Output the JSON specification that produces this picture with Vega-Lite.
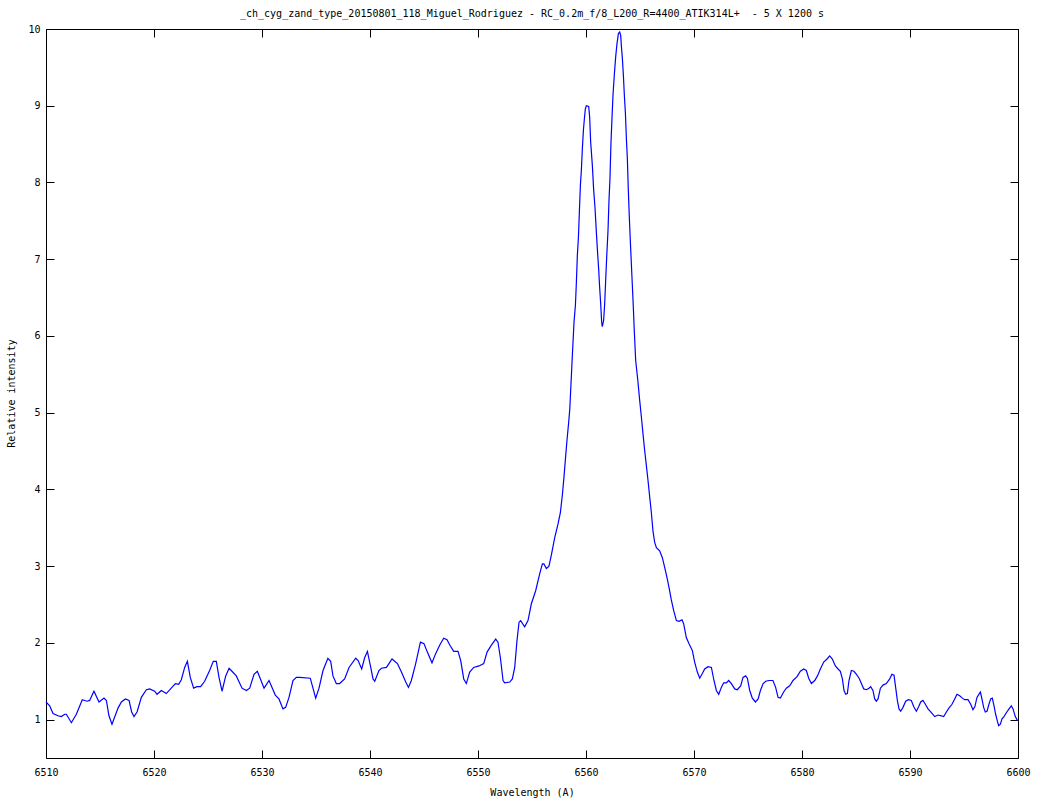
{
 "$schema": "https://vega.github.io/schema/vega-lite/v6.json",
 "width": 972, "height": 729,
 "autosize": {"type": "none"},
 "padding": {"left": 46, "top": 29, "right": 19, "bottom": 42},
 "background": "white",
 "title": {"text": "_ch_cyg_zand_type_20150801_118_Miguel_Rodriguez - RC_0.2m_f/8_L200_R=4400_ATIK314L+\u00a0 - 5 X 1200 s", "font": "DejaVu Sans Mono", "fontSize": 10, "fontWeight": "normal", "color": "black", "anchor": "middle", "frame": "group", "baseline": "alphabetic", "offset": -3},
 "config": {"view": {"stroke": "black", "strokeWidth": 1}, "axis": {"labelFont": "DejaVu Sans Mono", "labelFontSize": 10, "labelColor": "black", "titleFont": "DejaVu Sans Mono", "titleFontSize": 10, "titleFontWeight": "normal", "titleColor": "black", "grid": false, "domain": false, "tickColor": "black", "tickSize": -8, "tickWidth": 1}},
 "data": {"values": [
{"w":6510.0,"i":1.23},{"w":6510.34,"i":1.18},{"w":6510.65,"i":1.08},{"w":6511.11,"i":1.05},{"w":6511.42,"i":1.04},{"w":6511.73,"i":1.07},{"w":6511.88,"i":1.07},{"w":6512.35,"i":0.96},{"w":6512.81,"i":1.07},{"w":6513.36,"i":1.26},{"w":6513.8,"i":1.24},{"w":6514.04,"i":1.25},{"w":6514.44,"i":1.37},{"w":6514.91,"i":1.23},{"w":6515.37,"i":1.28},{"w":6515.59,"i":1.25},{"w":6515.83,"i":1.05},{"w":6516.11,"i":0.94},{"w":6516.67,"i":1.15},{"w":6516.98,"i":1.23},{"w":6517.35,"i":1.27},{"w":6517.69,"i":1.25},{"w":6517.93,"i":1.10},{"w":6518.15,"i":1.04},{"w":6518.43,"i":1.10},{"w":6518.83,"i":1.29},{"w":6519.29,"i":1.39},{"w":6519.6,"i":1.40},{"w":6520.06,"i":1.37},{"w":6520.28,"i":1.33},{"w":6520.68,"i":1.38},{"w":6521.14,"i":1.34},{"w":6521.6,"i":1.41},{"w":6521.98,"i":1.47},{"w":6522.28,"i":1.46},{"w":6522.53,"i":1.52},{"w":6522.84,"i":1.68},{"w":6523.09,"i":1.76},{"w":6523.36,"i":1.55},{"w":6523.67,"i":1.41},{"w":6523.98,"i":1.43},{"w":6524.32,"i":1.43},{"w":6524.69,"i":1.50},{"w":6525.15,"i":1.64},{"w":6525.49,"i":1.76},{"w":6525.77,"i":1.76},{"w":6526.02,"i":1.55},{"w":6526.3,"i":1.37},{"w":6526.64,"i":1.57},{"w":6526.95,"i":1.67},{"w":6527.22,"i":1.63},{"w":6527.62,"i":1.57},{"w":6528.15,"i":1.41},{"w":6528.55,"i":1.38},{"w":6528.86,"i":1.41},{"w":6529.26,"i":1.59},{"w":6529.57,"i":1.63},{"w":6529.88,"i":1.52},{"w":6530.19,"i":1.41},{"w":6530.65,"i":1.51},{"w":6530.96,"i":1.41},{"w":6531.23,"i":1.32},{"w":6531.57,"i":1.27},{"w":6531.94,"i":1.14},{"w":6532.19,"i":1.16},{"w":6532.5,"i":1.29},{"w":6532.87,"i":1.51},{"w":6533.18,"i":1.55},{"w":6533.49,"i":1.55},{"w":6534.47,"i":1.54},{"w":6534.72,"i":1.41},{"w":6534.97,"i":1.28},{"w":6535.28,"i":1.41},{"w":6535.65,"i":1.64},{"w":6536.1,"i":1.80},{"w":6536.36,"i":1.76},{"w":6536.57,"i":1.57},{"w":6536.88,"i":1.47},{"w":6537.19,"i":1.47},{"w":6537.65,"i":1.53},{"w":6538.06,"i":1.68},
{"w":6538.68,"i":1.80},{"w":6538.9,"i":1.77},{"w":6539.23,"i":1.66},{"w":6539.51,"i":1.81},{"w":6539.76,"i":1.89},{"w":6540.04,"i":1.70},{"w":6540.28,"i":1.53},{"w":6540.44,"i":1.50},{"w":6540.83,"i":1.64},{"w":6541.06,"i":1.67},{"w":6541.52,"i":1.68},{"w":6542.04,"i":1.79},{"w":6542.54,"i":1.73},{"w":6542.91,"i":1.62},{"w":6543.31,"i":1.49},{"w":6543.56,"i":1.42},{"w":6543.83,"i":1.51},{"w":6544.23,"i":1.73},{"w":6544.67,"i":2.01},{"w":6545.0,"i":1.99},{"w":6545.31,"i":1.88},{"w":6545.74,"i":1.74},{"w":6546.08,"i":1.86},{"w":6546.45,"i":1.97},{"w":6546.82,"i":2.06},{"w":6547.13,"i":2.04},{"w":6547.44,"i":1.96},{"w":6547.75,"i":1.89},{"w":6548.15,"i":1.89},{"w":6548.4,"i":1.77},{"w":6548.68,"i":1.53},{"w":6548.92,"i":1.47},{"w":6549.23,"i":1.62},{"w":6549.6,"i":1.68},{"w":6550.1,"i":1.70},{"w":6550.53,"i":1.73},{"w":6550.84,"i":1.88},{"w":6551.24,"i":1.97},{"w":6551.64,"i":2.05},{"w":6551.85,"i":2.01},{"w":6552.07,"i":1.81},{"w":6552.32,"i":1.51},{"w":6552.47,"i":1.48},{"w":6552.94,"i":1.49},{"w":6553.18,"i":1.53},{"w":6553.4,"i":1.68},{"w":6553.61,"i":2.03},{"w":6553.8,"i":2.27},{"w":6553.95,"i":2.29},{"w":6554.32,"i":2.21},{"w":6554.63,"i":2.29},{"w":6554.94,"i":2.51},{"w":6555.34,"i":2.68},{"w":6555.71,"i":2.90},{"w":6555.96,"i":3.03},{"w":6556.1,"i":3.03},{"w":6556.33,"i":2.97},{"w":6556.57,"i":3.0},{"w":6556.8,"i":3.15},{"w":6557.1,"i":3.37},{"w":6557.41,"i":3.55},{"w":6557.63,"i":3.70},{"w":6557.82,"i":3.94},{"w":6557.96,"i":4.16},{"w":6558.12,"i":4.44},{"w":6558.24,"i":4.64},{"w":6558.4,"i":4.88},{"w":6558.5,"i":5.05},{"w":6558.58,"i":5.29},{"w":6558.7,"i":5.64},{"w":6558.89,"i":6.18},{"w":6559.02,"i":6.40},{"w":6559.11,"i":6.70},{"w":6559.2,"i":7.05},{"w":6559.3,"i":7.29},{"w":6559.39,"i":7.63},{"w":6559.48,"i":7.96},{"w":6559.57,"i":8.16},{"w":6559.67,"i":8.46},{"w":6559.76,"i":8.68},{"w":6559.85,"i":8.83},{"w":6559.94,"i":8.96},{"w":6560.03,"i":9.00},{"w":6560.25,"i":8.99},{"w":6560.34,"i":8.85},{"w":6560.43,"i":8.53},{"w":6560.59,"i":8.22},{"w":6560.71,"i":7.90},{"w":6560.83,"i":7.68},{"w":6560.96,"i":7.35},{"w":6561.08,"i":7.07},{"w":6561.17,"i":6.88},{"w":6561.26,"i":6.64},{"w":6561.36,"i":6.42},{"w":6561.45,"i":6.18},{"w":6561.51,"i":6.12},{"w":6561.63,"i":6.20},{"w":6561.73,"i":6.42},{"w":6561.82,"i":6.72},{"w":6561.91,"i":7.01},{"w":6562.04,"i":7.38},{"w":6562.13,"i":7.77},{"w":6562.22,"i":8.05},{"w":6562.31,"i":8.51},{"w":6562.41,"i":8.85},{"w":6562.5,"i":9.14},{"w":6562.63,"i":9.42},{"w":6562.75,"i":9.64},{"w":6562.87,"i":9.81},{"w":6563.0,"i":9.94},{"w":6563.12,"i":9.96},{"w":6563.21,"i":9.92},{"w":6563.28,"i":9.77},{"w":6563.37,"i":9.61},{"w":6563.46,"i":9.40},{"w":6563.55,"i":9.14},{"w":6563.65,"i":8.90},{"w":6563.74,"i":8.57},{"w":6563.83,"i":8.31},{"w":6563.92,"i":7.90},{"w":6564.01,"i":7.55},{"w":6564.11,"i":7.22},{"w":6564.2,"i":6.94},{"w":6564.29,"i":6.66},{"w":6564.38,"i":6.38},{"w":6564.47,"i":6.07},{"w":6564.6,"i":5.68},{"w":6564.8,"i":5.42},{"w":6564.97,"i":5.16},{"w":6565.13,"i":4.94},{"w":6565.28,"i":4.72},{"w":6565.43,"i":4.51},{"w":6565.59,"i":4.31},{"w":6565.74,"i":4.12},{"w":6565.9,"i":3.90},{"w":6566.05,"i":3.70},{"w":6566.2,"i":3.46},{"w":6566.36,"i":3.31},{"w":6566.52,"i":3.24},{"w":6566.82,"i":3.20},{"w":6567.07,"i":3.11},{"w":6567.29,"i":2.98},{"w":6567.5,"i":2.85},{"w":6567.69,"i":2.72},{"w":6567.9,"i":2.56},
{"w":6568.12,"i":2.42},{"w":6568.37,"i":2.29},{"w":6568.61,"i":2.28},{"w":6568.89,"i":2.30},{"w":6569.04,"i":2.25},{"w":6569.29,"i":2.07},{"w":6569.54,"i":1.99},{"w":6569.85,"i":1.90},{"w":6570.06,"i":1.75},{"w":6570.31,"i":1.62},{"w":6570.53,"i":1.54},{"w":6570.77,"i":1.60},{"w":6570.99,"i":1.66},{"w":6571.3,"i":1.69},{"w":6571.61,"i":1.68},{"w":6571.85,"i":1.51},{"w":6572.07,"i":1.38},{"w":6572.29,"i":1.33},{"w":6572.53,"i":1.42},{"w":6572.75,"i":1.48},{"w":6573.0,"i":1.48},{"w":6573.21,"i":1.51},{"w":6573.46,"i":1.47},{"w":6573.77,"i":1.40},{"w":6574.0,"i":1.39},{"w":6574.32,"i":1.44},{"w":6574.54,"i":1.55},{"w":6574.78,"i":1.57},{"w":6574.94,"i":1.54},{"w":6575.16,"i":1.38},{"w":6575.4,"i":1.28},{"w":6575.69,"i":1.23},{"w":6575.94,"i":1.27},{"w":6576.15,"i":1.38},{"w":6576.4,"i":1.47},{"w":6576.64,"i":1.50},{"w":6576.95,"i":1.51},{"w":6577.31,"i":1.51},{"w":6577.56,"i":1.42},{"w":6577.78,"i":1.29},{"w":6578.0,"i":1.28},{"w":6578.3,"i":1.36},{"w":6578.55,"i":1.41},{"w":6578.86,"i":1.44},{"w":6579.17,"i":1.51},{"w":6579.54,"i":1.56},{"w":6579.85,"i":1.63},{"w":6580.16,"i":1.66},{"w":6580.4,"i":1.64},{"w":6580.62,"i":1.54},{"w":6580.87,"i":1.47},{"w":6581.18,"i":1.51},{"w":6581.43,"i":1.57},{"w":6581.7,"i":1.66},{"w":6582.01,"i":1.75},{"w":6582.32,"i":1.79},{"w":6582.56,"i":1.83},{"w":6582.81,"i":1.79},{"w":6583.09,"i":1.70},{"w":6583.34,"i":1.66},{"w":6583.55,"i":1.63},{"w":6583.74,"i":1.53},{"w":6583.89,"i":1.38},{"w":6584.05,"i":1.33},{"w":6584.2,"i":1.34},{"w":6584.35,"i":1.51},{"w":6584.57,"i":1.64},{"w":6584.81,"i":1.63},{"w":6585.04,"i":1.59},{"w":6585.29,"i":1.54},{"w":6585.5,"i":1.47},{"w":6585.72,"i":1.40},{"w":6585.96,"i":1.39},{"w":6586.2,"i":1.41},{"w":6586.36,"i":1.43},{"w":6586.57,"i":1.38},{"w":6586.73,"i":1.27},{"w":6586.88,"i":1.24},{"w":6587.04,"i":1.27},{"w":6587.26,"i":1.41},{"w":6587.5,"i":1.45},{"w":6587.81,"i":1.47},{"w":6588.12,"i":1.53},{"w":6588.33,"i":1.59},{"w":6588.52,"i":1.58},{"w":6588.68,"i":1.41},{"w":6588.83,"i":1.25},{"w":6588.98,"i":1.14},{"w":6589.14,"i":1.11},{"w":6589.35,"i":1.16},{"w":6589.6,"i":1.24},{"w":6589.85,"i":1.26},{"w":6590.12,"i":1.25},{"w":6590.34,"i":1.17},{"w":6590.59,"i":1.11},{"w":6590.81,"i":1.17},{"w":6590.99,"i":1.23},{"w":6591.2,"i":1.25},{"w":6591.42,"i":1.20},{"w":6591.67,"i":1.14},{"w":6591.98,"i":1.09},{"w":6592.29,"i":1.04},{"w":6592.6,"i":1.06},{"w":6592.9,"i":1.05},{"w":6593.12,"i":1.04},{"w":6593.37,"i":1.10},{"w":6593.6,"i":1.15},{"w":6593.89,"i":1.20},{"w":6594.14,"i":1.27},{"w":6594.35,"i":1.33},{"w":6594.6,"i":1.31},{"w":6594.85,"i":1.28},{"w":6595.06,"i":1.26},{"w":6595.37,"i":1.26},{"w":6595.62,"i":1.20},{"w":6595.83,"i":1.13},{"w":6596.01,"i":1.17},{"w":6596.2,"i":1.29},{"w":6596.38,"i":1.33},{"w":6596.52,"i":1.36},{"w":6596.66,"i":1.27},{"w":6596.82,"i":1.16},{"w":6596.97,"i":1.10},{"w":6597.13,"i":1.11},{"w":6597.31,"i":1.20},{"w":6597.47,"i":1.27},{"w":6597.62,"i":1.28},{"w":6597.78,"i":1.18},{"w":6597.93,"i":1.07},{"w":6598.09,"i":0.98},{"w":6598.21,"i":0.92},{"w":6598.37,"i":0.94},{"w":6598.52,"i":1.01},{"w":6598.7,"i":1.04},{"w":6598.92,"i":1.09},{"w":6599.17,"i":1.14},{"w":6599.38,"i":1.18},{"w":6599.54,"i":1.14},{"w":6599.75,"i":1.04},{"w":6599.94,"i":0.99},{"w":6600.0,"i":0.99}
 ]},
 "layer": [
  {"mark": {"type": "line", "color": "#0000ff", "strokeWidth": 1.2, "interpolate": "linear"},
   "encoding": {
    "x": {"field": "w", "type": "quantitative", "scale": {"domain": [6510, 6600], "nice": false, "zero": false},
          "axis": {"orient": "bottom", "values": [6510,6520,6530,6540,6550,6560,6570,6580,6590,6600], "format": "d", "title": "Wavelength (A)", "labelPadding": 17, "labelFlush": false, "titleY": 37, "titleBaseline": "alphabetic"}},
    "y": {"field": "i", "type": "quantitative", "scale": {"domain": [0.5, 10], "nice": false, "zero": false},
          "axis": {"orient": "left", "values": [1,2,3,4,5,6,7,8,9,10], "title": "Relative intensity", "labelPadding": 14, "labelFlush": false, "titleX": -32, "titleY": 364, "titleAngle": -90, "titleAlign": "center", "titleBaseline": "alphabetic"}}
   }},
  {"mark": {"type": "line", "opacity": 0},
   "encoding": {
    "x": {"field": "w", "type": "quantitative", "scale": {"domain": [6510, 6600], "nice": false, "zero": false},
          "axis": {"orient": "top", "values": [6510,6520,6530,6540,6550,6560,6570,6580,6590,6600], "labels": false, "title": null}},
    "y": {"field": "i", "type": "quantitative", "scale": {"domain": [0.5, 10], "nice": false, "zero": false},
          "axis": {"orient": "right", "values": [1,2,3,4,5,6,7,8,9,10], "labels": false, "title": null}}
   }}
 ],
 "resolve": {"axis": {"x": "independent", "y": "independent"}}
}
